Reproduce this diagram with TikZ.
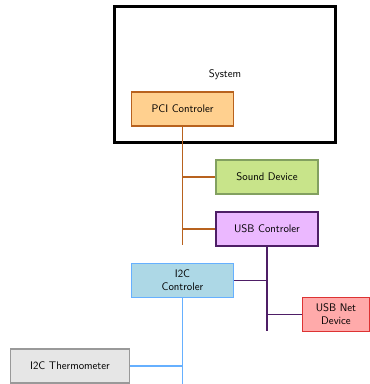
\documentclass[tikz,border=0pt]{standalone}
\usepackage{tikz}
\usetikzlibrary{positioning}

\definecolor{pcifill}{HTML}{FFD08F}
\definecolor{pciline}{HTML}{B8621E}
\definecolor{sndfill}{HTML}{C8E48A}
\definecolor{sndline}{HTML}{82A060}
\definecolor{usbfill}{HTML}{EBB8FF}
\definecolor{usbline}{HTML}{4E1E66}
\definecolor{iicfill}{HTML}{ADD8E6}
\definecolor{iicline}{HTML}{66B0FF}
\definecolor{netfill}{HTML}{FFAAAA}
\definecolor{netline}{HTML}{DD3333}
\definecolor{thmfill}{HTML}{E6E6E6}
\definecolor{thmline}{HTML}{999999}

\tikzset{
  dev/.style={draw, line width=1.6pt, minimum width=102pt, minimum height=34pt,
    align=center, inner sep=2pt, font=\sffamily\fontsize{11}{13}\selectfont},
  bus/.style={line width=1.6pt}
}

\begin{document}
\begin{tikzpicture}[x=1pt, y=-1pt]
  \useasboundingbox (0,0) rectangle (370,384);

  % system frame
  \node[draw, line width=3pt, minimum width=221pt, minimum height=136pt] (sys) at (224.5,74) {};
  \node[font=\sffamily\fontsize{11}{13}\selectfont] (systxt) at (225,75) {System};

  \node[dev, fill=pcifill, draw=pciline] (pci) at (182.5,109) {PCI Controler};
  \node[dev, fill=sndfill, draw=sndline] (snd) at (267,177) {Sound Device};
  \node[dev, fill=usbfill, draw=usbline] (usb) at (267,229) {USB Controler};
  \node[dev, fill=iicfill, draw=iicline] (iic) at (182.5,280.5) {I2C\\Controler};
  \node[dev, fill=netfill, draw=netline, minimum width=67pt] (net) at (336,314.5) {USB Net\\Device};
  \node[dev, fill=thmfill, draw=thmline, minimum width=119pt] (thm) at (70,366) {I2C Thermometer};

  \coordinate (pciend) at (182,245);
  \coordinate (usbend) at (267,331);
  \coordinate (iicend) at (182,384);

  % pci bus
  \draw[bus, pciline] (pci.south) -- (pci.south |- pciend);
  \draw[bus, pciline] (pci.south |- snd.west) -- (snd.west);
  \draw[bus, pciline] (pci.south |- usb.west) -- (usb.west);

  % usb bus
  \draw[bus, usbline] (usb.south) -- (usbend);
  \draw[bus, usbline] (iic.east) -- (usb.south |- iic.east);
  \draw[bus, usbline] (usb.south |- net.west) -- (net.west);

  % i2c bus
  \draw[bus, iicline] (iic.south) -- (iic.south |- iicend);
  \draw[bus, iicline] (thm.east) -- (iic.south |- thm.east);
\end{tikzpicture}
\end{document}
